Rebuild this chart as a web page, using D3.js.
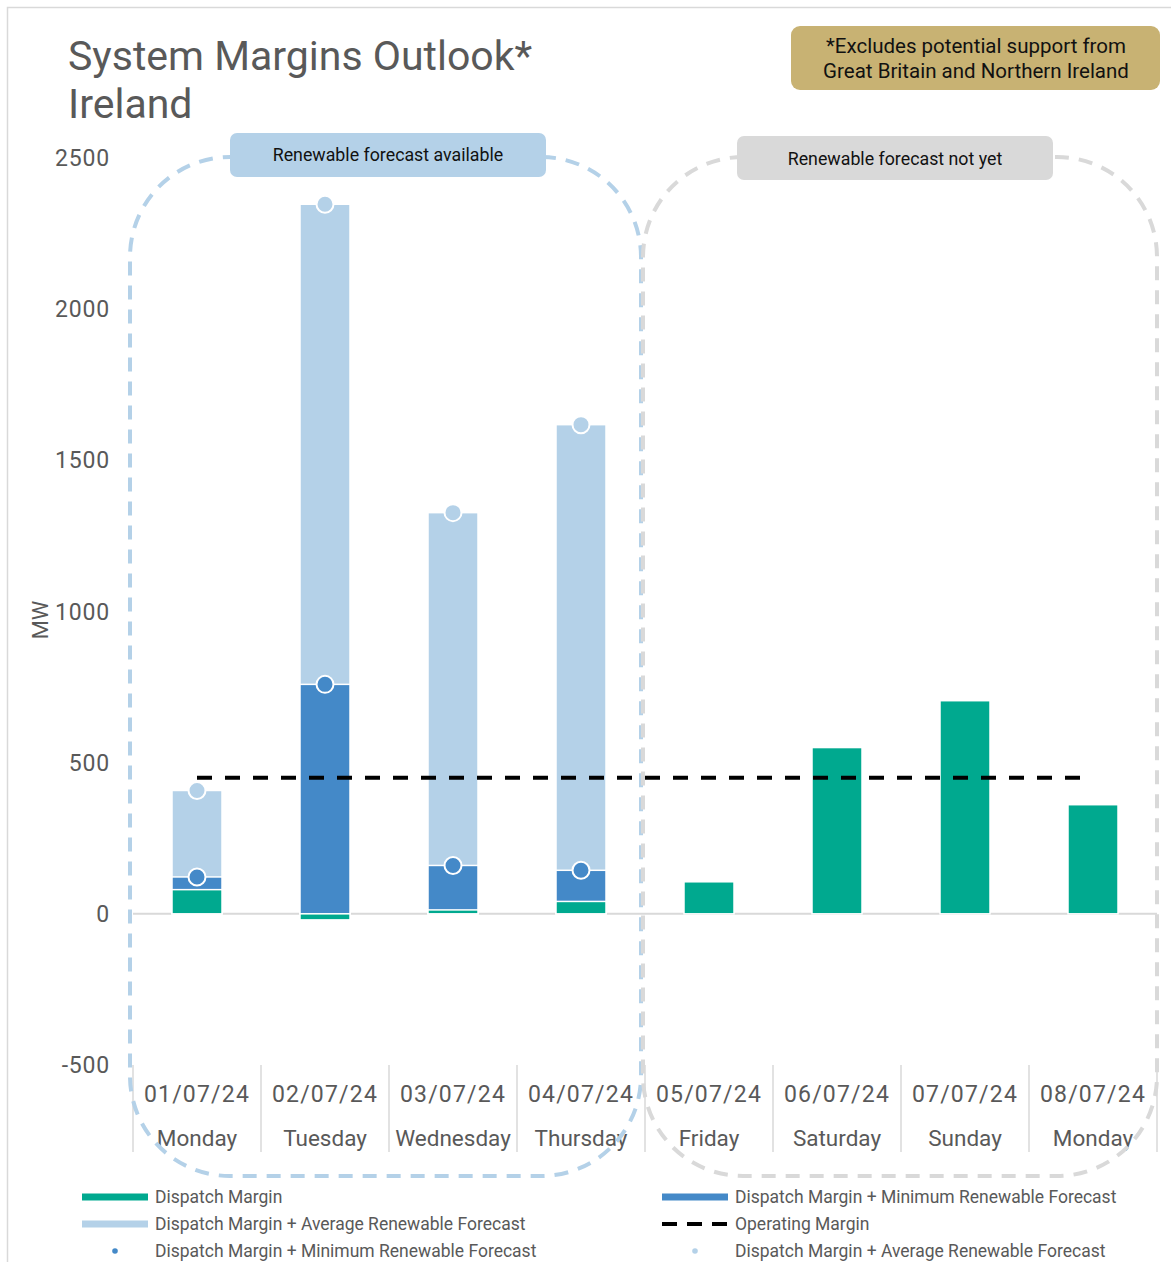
<!DOCTYPE html>
<html>
<head>
<meta charset="utf-8">
<script src="https://cdn.jsdelivr.net/npm/d3@7"></script>
<style>
  body { margin: 0; background: #fff; }
  svg text { font-family: Roboto, "Liberation Sans", sans-serif; }
</style>
</head>
<body>
<div id="chart"></div>
<script>
// chart values
var dates = ["01/07/24", "02/07/24", "03/07/24", "04/07/24", "05/07/24", "06/07/24", "07/07/24", "08/07/24"];
var days = ["Monday", "Tuesday", "Wednesday", "Thursday", "Friday", "Saturday", "Sunday", "Monday"];
var dispatchMargin = [80, -20, 13, 41, 106, 550, 705, 361];
var minRenewable = [122, 759, 160, 144, null, null, null, null];
var avgRenewable = [408, 2347, 1327, 1618, null, null, null, null];
var operatingMargin = [450, 450, 450, 450, 450, 450, 450, 450];
var yTicks = [-500, 0, 500, 1000, 1500, 2000, 2500];

var green = "#00a98f", blue = "#4489c8", lightBlue = "#b4d1e8", grey = "#595959";

var width = 1171, height = 1262;

var svg = d3.select("#chart")
  .append("svg")
  .attr("width", width)
  .attr("height", height);

// outer frame
svg.append("rect")
  .attr("x", 7.5).attr("y", 7.5)
  .attr("width", width + 10).attr("height", height + 10)
  .attr("fill", "none")
  .attr("stroke", "#d9d9d9")
  .attr("stroke-width", 1.5);

// title
svg.append("text").attr("x", 68).attr("y", 70)
  .attr("font-size", 41).attr("fill", grey)
  .text("System Margins Outlook*");
svg.append("text").attr("x", 68).attr("y", 118)
  .attr("font-size", 41).attr("fill", grey)
  .text("Ireland");

// note box
svg.append("rect")
  .attr("x", 791).attr("y", 26).attr("width", 369).attr("height", 64)
  .attr("rx", 9).attr("fill", "#c8b273");
svg.append("text").attr("x", 976).attr("y", 53)
  .attr("text-anchor", "middle").attr("font-size", 20.5).attr("fill", "#111")
  .text("*Excludes potential support from");
svg.append("text").attr("x", 976).attr("y", 78)
  .attr("text-anchor", "middle").attr("font-size", 20.5).attr("fill", "#111")
  .text("Great Britain and Northern Ireland");

// scales
var x = d3.scaleBand()
  .domain(d3.range(dates.length))
  .range([133, 1157]);

var y = d3.scaleLinear()
  .domain([-500, 2500])
  .range([1065, 158]);

var barW = 50;

// y tick labels
svg.selectAll("text.ytick")
  .data(yTicks)
  .enter()
  .append("text")
  .attr("class", "ytick")
  .attr("x", 110)
  .attr("y", function(d) { return y(d) + 8; })
  .attr("text-anchor", "end")
  .attr("font-size", 23)
  .attr("letter-spacing", 0.8)
  .attr("fill", grey)
  .text(function(d) { return d; });

svg.append("text")
  .attr("transform", "translate(48,620) rotate(-90)")
  .attr("text-anchor", "middle")
  .attr("font-size", 22)
  .attr("fill", grey)
  .text("MW");

// zero line
svg.append("line")
  .attr("x1", 133).attr("x2", 1157)
  .attr("y1", y(0)).attr("y2", y(0))
  .attr("stroke", "#d9d9d9").attr("stroke-width", 2);

// category separators
svg.selectAll("line.sep")
  .data(d3.range(dates.length + 1))
  .enter()
  .append("line")
  .attr("class", "sep")
  .attr("x1", function(i) { return i < dates.length ? x(i) : x.range()[1]; })
  .attr("x2", function(i) { return i < dates.length ? x(i) : x.range()[1]; })
  .attr("y1", 1065).attr("y2", 1152)
  .attr("stroke", "#d9d9d9").attr("stroke-width", 1.5);

// category labels
svg.selectAll("text.date")
  .data(dates)
  .enter()
  .append("text")
  .attr("class", "date")
  .attr("x", function(d, i) { return x(i) + x.bandwidth() / 2; })
  .attr("y", 1102)
  .attr("text-anchor", "middle")
  .attr("font-size", 23)
  .attr("letter-spacing", 1.2)
  .attr("fill", grey)
  .text(function(d) { return d; });

svg.selectAll("text.day")
  .data(days)
  .enter()
  .append("text")
  .attr("class", "day")
  .attr("x", function(d, i) { return x(i) + x.bandwidth() / 2; })
  .attr("y", 1146)
  .attr("text-anchor", "middle")
  .attr("font-size", 22.5)
  .attr("fill", grey)
  .text(function(d) { return d; });

// bars: average, minimum, dispatch overlaid from zero
function drawBars(values, colour, cls) {
  var data = values.map(function(v, i) { return {i: i, v: v}; })
                   .filter(function(d) { return d.v !== null; });
  svg.selectAll("rect." + cls)
    .data(data)
    .enter()
    .append("rect")
    .attr("class", cls)
    .attr("x", function(d) { return x(d.i) + (x.bandwidth() - barW) / 2; })
    .attr("width", barW)
    .attr("y", function(d) { return y(Math.max(0, d.v)); })
    .attr("height", function(d) { return Math.abs(y(d.v) - y(0)); })
    .attr("fill", colour)
    .attr("stroke", "#fff")
    .attr("stroke-width", 1.5);
}
drawBars(avgRenewable, lightBlue, "avg");
drawBars(minRenewable, blue, "min");
drawBars(dispatchMargin, green, "disp");

// markers
function drawDots(values, colour, cls) {
  var data = values.map(function(v, i) { return {i: i, v: v}; })
                   .filter(function(d) { return d.v !== null; });
  svg.selectAll("circle." + cls)
    .data(data)
    .enter()
    .append("circle")
    .attr("class", cls)
    .attr("cx", function(d) { return x(d.i) + x.bandwidth() / 2; })
    .attr("cy", function(d) { return y(d.v); })
    .attr("r", 8.5)
    .attr("fill", colour)
    .attr("stroke", "#fff")
    .attr("stroke-width", 2);
}
drawDots(avgRenewable, lightBlue, "avgdot");
drawDots(minRenewable, blue, "mindot");

// operating margin line
var line = d3.line()
  .x(function(d, i) { return x(i) + x.bandwidth() / 2; })
  .y(function(d) { return y(d); });

svg.append("path")
  .datum(operatingMargin)
  .attr("d", line)
  .attr("fill", "none")
  .attr("stroke", "#000")
  .attr("stroke-width", 4)
  .attr("stroke-dasharray", "15,13");

// dashed grouping boxes
svg.append("rect")
  .attr("x", 130).attr("y", 157).attr("width", 511).attr("height", 1019)
  .attr("rx", 100).attr("ry", 100)
  .attr("fill", "none")
  .attr("stroke", lightBlue).attr("stroke-width", 4)
  .attr("stroke-dasharray", "14,10");
svg.append("rect")
  .attr("x", 643).attr("y", 157).attr("width", 514).attr("height", 1019)
  .attr("rx", 100).attr("ry", 100)
  .attr("fill", "none")
  .attr("stroke", "#d9d9d9").attr("stroke-width", 4)
  .attr("stroke-dasharray", "14,10");

svg.append("rect")
  .attr("x", 230).attr("y", 133).attr("width", 316).attr("height", 44)
  .attr("rx", 7).attr("fill", lightBlue);
svg.append("text").attr("x", 388).attr("y", 161)
  .attr("text-anchor", "middle").attr("font-size", 17.8).attr("fill", "#111")
  .text("Renewable forecast available");

svg.append("rect")
  .attr("x", 737).attr("y", 136).attr("width", 316).attr("height", 44)
  .attr("rx", 7).attr("fill", "#d9d9d9");
svg.append("text").attr("x", 895).attr("y", 165)
  .attr("text-anchor", "middle").attr("font-size", 17.8).attr("fill", "#111")
  .text("Renewable forecast not yet");

// legend
var legendItems = [
  {label: "Dispatch Margin", type: "bar", colour: green, col: 0, row: 0},
  {label: "Dispatch Margin + Minimum Renewable Forecast", type: "bar", colour: blue, col: 1, row: 0},
  {label: "Dispatch Margin + Average Renewable Forecast", type: "bar", colour: lightBlue, col: 0, row: 1},
  {label: "Operating Margin", type: "dash", colour: "#000", col: 1, row: 1},
  {label: "Dispatch Margin + Minimum Renewable Forecast", type: "dot", colour: blue, col: 0, row: 2},
  {label: "Dispatch Margin + Average Renewable Forecast", type: "dot", colour: lightBlue, col: 1, row: 2}
];

var legend = svg.selectAll("g.legend")
  .data(legendItems)
  .enter()
  .append("g")
  .attr("class", "legend")
  .attr("transform", function(d) {
    return "translate(" + (d.col === 0 ? 82 : 662) + "," + (1197 + d.row * 27) + ")";
  });

legend.each(function(d) {
  var g = d3.select(this);
  if (d.type === "bar") {
    g.append("rect").attr("x", 0).attr("y", -3.5).attr("width", 66).attr("height", 7)
      .attr("fill", d.colour);
  } else if (d.type === "dash") {
    g.append("line").attr("x1", 0).attr("x2", 66).attr("y1", 0).attr("y2", 0)
      .attr("stroke", "#000").attr("stroke-width", 4).attr("stroke-dasharray", "15,10");
  } else {
    g.append("circle").attr("cx", 33).attr("cy", 0).attr("r", 2.8).attr("fill", d.colour);
  }
  g.append("text").attr("x", 73).attr("y", 6)
    .attr("font-size", 17.5).attr("fill", grey)
    .text(d.label);
});
</script>
</body>
</html>
